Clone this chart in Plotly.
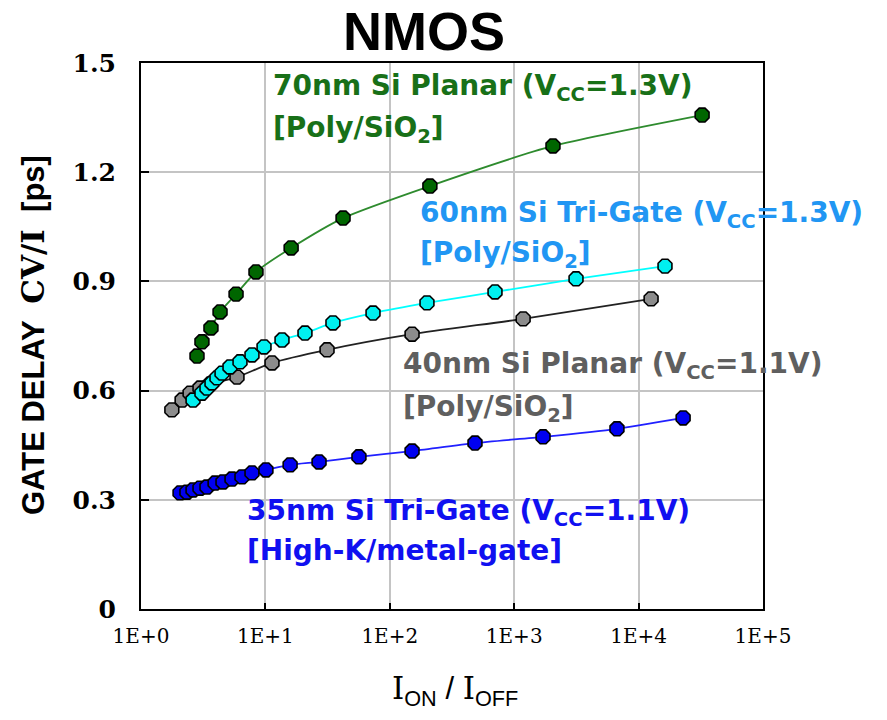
import plotly.graph_objects as go

# ---- data ----
x70 = [2.82, 3.09, 3.65, 4.32, 5.81, 8.40, 16.1, 42.1, 210, 2050, 32400]
y70 = [0.695, 0.734, 0.772, 0.816, 0.865, 0.926, 0.992, 1.074, 1.162, 1.272, 1.357]

x60 = [2.62, 3.09, 3.39, 3.72, 4.08, 4.48, 5.19, 6.25, 7.80, 9.75, 13.6, 20.8, 34.9, 73.3, 199, 701, 3140, 16300]
y60 = [0.574, 0.593, 0.607, 0.621, 0.635, 0.648, 0.665, 0.679, 0.698, 0.720, 0.739, 0.758, 0.786, 0.813, 0.841, 0.871, 0.907, 0.942]

x40 = [1.77, 2.14, 2.48, 2.98, 3.59, 5.91, 11.3, 31.3, 151, 1180, 12600]
y40 = [0.547, 0.574, 0.593, 0.607, 0.618, 0.637, 0.676, 0.712, 0.755, 0.797, 0.852]

x35 = [2.06, 2.34, 2.62, 2.98, 3.39, 3.94, 4.56, 5.39, 6.48, 7.80, 10.1, 15.8, 27.0, 56.5, 151, 484, 1706, 6700, 22800]
y35 = [0.319, 0.321, 0.327, 0.332, 0.335, 0.346, 0.349, 0.357, 0.363, 0.374, 0.382, 0.396, 0.404, 0.418, 0.434, 0.456, 0.473, 0.495, 0.525]

x_tickvals = [1, 10, 100, 1000, 10000, 100000]
x_ticktext = ["1E+0", "1E+1", "1E+2", "1E+3", "1E+4", "1E+5"]
y_tickvals = [0, 0.3, 0.6, 0.9, 1.2, 1.5]
y_ticktext = ["0", "0.3", "0.6", "0.9", "1.2", "1.5"]

W, H = 887, 720
L, R, T, B = 141, 124, 63, 111
PW, PH = W - L - R, H - T - B


def px(xp):
    return (xp - L) / PW


def py(yp):
    return (H - B - yp) / PH


fig = go.Figure()

series = [
    (x40, y40, "#8c8c8c", "#222222"),
    (x60, y60, "#00f0f0", "#00ffff"),
    (x70, y70, "#006600", "#2e8b2e"),
    (x35, y35, "#0000f0", "#2020ff"),
]
for xs, ys, mc, lc in series:
    fig.add_trace(go.Scatter(
        x=xs, y=ys, mode="lines+markers",
        line=dict(color=lc, width=1.8, shape="spline", smoothing=0.6),
        marker=dict(symbol="octagon", size=15, color=mc,
                    line=dict(color="black", width=1.6)),
        showlegend=False,
    ))

SANS = "Liberation Sans, Arial, sans-serif"
WIDE = "DejaVu Sans, sans-serif"
SERIF = "DejaVu Serif, serif"

fig.update_layout(
    width=W, height=H,
    margin=dict(l=L, r=R, t=T, b=B),
    paper_bgcolor="white", plot_bgcolor="white",
    font=dict(family=SANS, color="black"),
    xaxis=dict(
        type="log", range=[0, 5],
        tickvals=x_tickvals, ticktext=x_ticktext,
        tickfont=dict(family=SERIF, size=20, color="black"),
        ticks="inside", ticklen=6, tickcolor="black", tickwidth=1.5,
        ticklabelstandoff=8,
        showgrid=True, gridcolor="#c4c4c4", gridwidth=1.5,
        showline=True, linecolor="black", linewidth=2, mirror=True,
        zeroline=False,
    ),
    yaxis=dict(
        range=[0, 1.5],
        tickvals=y_tickvals, ticktext=y_ticktext,
        tickfont=dict(family=SERIF, size=25, color="black", weight="bold"),
        ticks="inside", ticklen=8, tickcolor="black", tickwidth=1.5,
        ticklabelstandoff=18,
        showgrid=True, gridcolor="#c4c4c4", gridwidth=1.5,
        showline=True, linecolor="black", linewidth=2, mirror=True,
        zeroline=False,
    ),
)

ann = []
# title
ann.append(dict(text="<b>NMOS</b>", x=px(424), y=py(31), xref="paper", yref="paper",
                xanchor="center", yanchor="middle", showarrow=False,
                font=dict(family=SANS, size=54, color="black")))
# y axis title
ann.append(dict(text="<b>GATE DELAY  <span style='font-family:DejaVu Serif'>CV/I</span>  [ps]</b>",
                x=px(33), y=py(335), xref="paper", yref="paper", textangle=-90,
                xanchor="center", yanchor="middle", showarrow=False,
                font=dict(family=SANS, size=31, color="black")))
# x axis title
ann.append(dict(text="<span style='font-family:DejaVu Serif'>I</span><sub>ON</sub> / "
                     "<span style='font-family:DejaVu Serif'>I</span><sub>OFF</sub>",
                x=px(455), y=py(690), xref="paper", yref="paper",
                xanchor="center", yanchor="middle", showarrow=False,
                font=dict(family=SANS, size=31, color="black")))

# series labels: (text, left px, line-centre px, colour)
labels = [
    ("70nm Si Planar (V<sub>CC</sub>=1.3V)", 271, 88, "#187018"),
    ("[Poly/SiO<sub>2</sub>]", 271, 129, "#187018"),
    ("60nm Si Tri-Gate (V<sub>CC</sub>=1.3V)", 418, 214, "#2196f3"),
    ("[Poly/SiO<sub>2</sub>]", 418, 254, "#2196f3"),
    ("40nm Si Planar (V<sub>CC</sub>=1.1V)", 401, 365, "#5f5f5f"),
    ("[Poly/SiO<sub>2</sub>]", 401, 408, "#5f5f5f"),
    ("35nm Si Tri-Gate (V<sub>CC</sub>=1.1V)", 245, 512, "#1010f0"),
    ("[High-K/metal-gate]", 245, 550, "#1010f0"),
]
for txt, xl, yc, col in labels:
    ann.append(dict(text="<b>" + txt + "</b>", x=px(xl), y=py(yc),
                    xref="paper", yref="paper", xanchor="left", yanchor="middle",
                    align="left", showarrow=False,
                    font=dict(family=WIDE, size=28, color=col)))

fig.update_layout(annotations=ann)
fig.write_html("out.html")
